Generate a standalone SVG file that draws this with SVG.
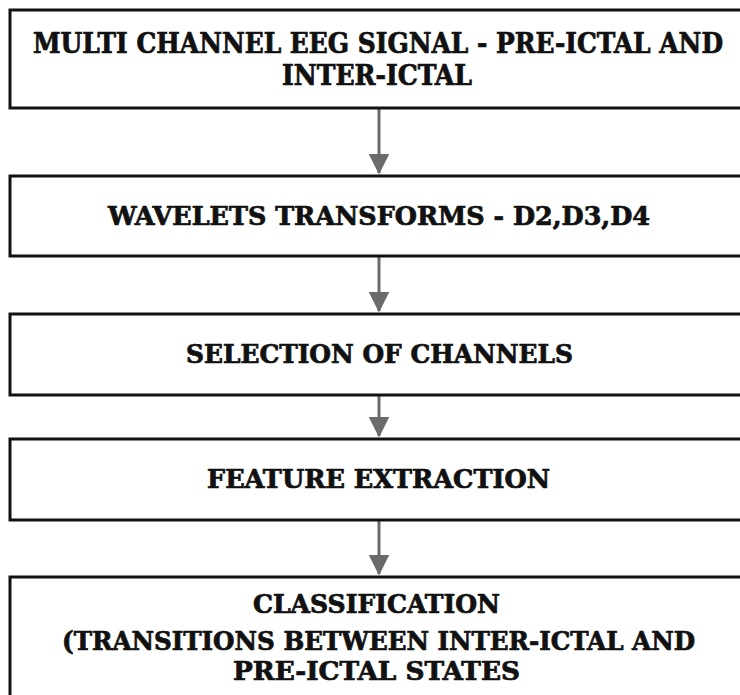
<svg xmlns="http://www.w3.org/2000/svg" width="740" height="695" viewBox="0 0 740 695">
<style>
.box{fill:#fff;stroke:#111;stroke-width:3}
.t{font-family:"DejaVu Serif Condensed","DejaVu Serif","Liberation Serif",serif;font-weight:bold;font-size:26px;fill:#111;stroke:#111;stroke-width:0.7}
.t1{font-size:27px}
.a{stroke:#6b6b6b;stroke-width:3;fill:none}
</style>
<defs>
<marker id="ah" markerWidth="7" markerHeight="7" refX="6.5" refY="3.5" orient="auto" markerUnits="strokeWidth">
<path d="M0,0 L7,3.5 L0,7 Z" fill="#6b6b6b"/>
</marker>
</defs>
<rect width="740" height="695" fill="#fff"/>
<g id="connectors">
<line class="a" x1="379" y1="109" x2="379" y2="173" marker-end="url(#ah)"/>
<line class="a" x1="379" y1="257" x2="379" y2="311" marker-end="url(#ah)"/>
<line class="a" x1="379" y1="396" x2="379" y2="436" marker-end="url(#ah)"/>
<line class="a" x1="379" y1="521" x2="379" y2="574" marker-end="url(#ah)"/>
</g>
<g id="n1">
<rect class="box" x="10" y="10" width="740" height="98"/>
<text class="t t1" x="33" y="53" textLength="690" lengthAdjust="spacingAndGlyphs">MULTI CHANNEL EEG SIGNAL - PRE-ICTAL AND</text>
<text class="t t1" x="282" y="85" textLength="190" lengthAdjust="spacingAndGlyphs">INTER-ICTAL</text>
</g>
<g id="n2">
<rect class="box" x="10" y="176" width="740" height="80"/>
<text class="t" x="108" y="225" textLength="542" lengthAdjust="spacingAndGlyphs">WAVELETS TRANSFORMS - D2,D3,D4</text>
</g>
<g id="n3">
<rect class="box" x="10" y="314" width="740" height="81"/>
<text class="t" x="186" y="363" textLength="387" lengthAdjust="spacingAndGlyphs">SELECTION OF CHANNELS</text>
</g>
<g id="n4">
<rect class="box" x="10" y="439" width="740" height="81"/>
<text class="t" x="207" y="488" textLength="343" lengthAdjust="spacingAndGlyphs">FEATURE EXTRACTION</text>
</g>
<g id="n5">
<rect class="box" x="10" y="577" width="740" height="130"/>
<text class="t" x="253" y="613" textLength="247" lengthAdjust="spacingAndGlyphs">CLASSIFICATION</text>
<text class="t" x="62" y="650" textLength="633" lengthAdjust="spacingAndGlyphs">(TRANSITIONS BETWEEN INTER-ICTAL AND</text>
<text class="t" x="233" y="680" textLength="287" lengthAdjust="spacingAndGlyphs">PRE-ICTAL STATES</text>
</g>
</svg>
